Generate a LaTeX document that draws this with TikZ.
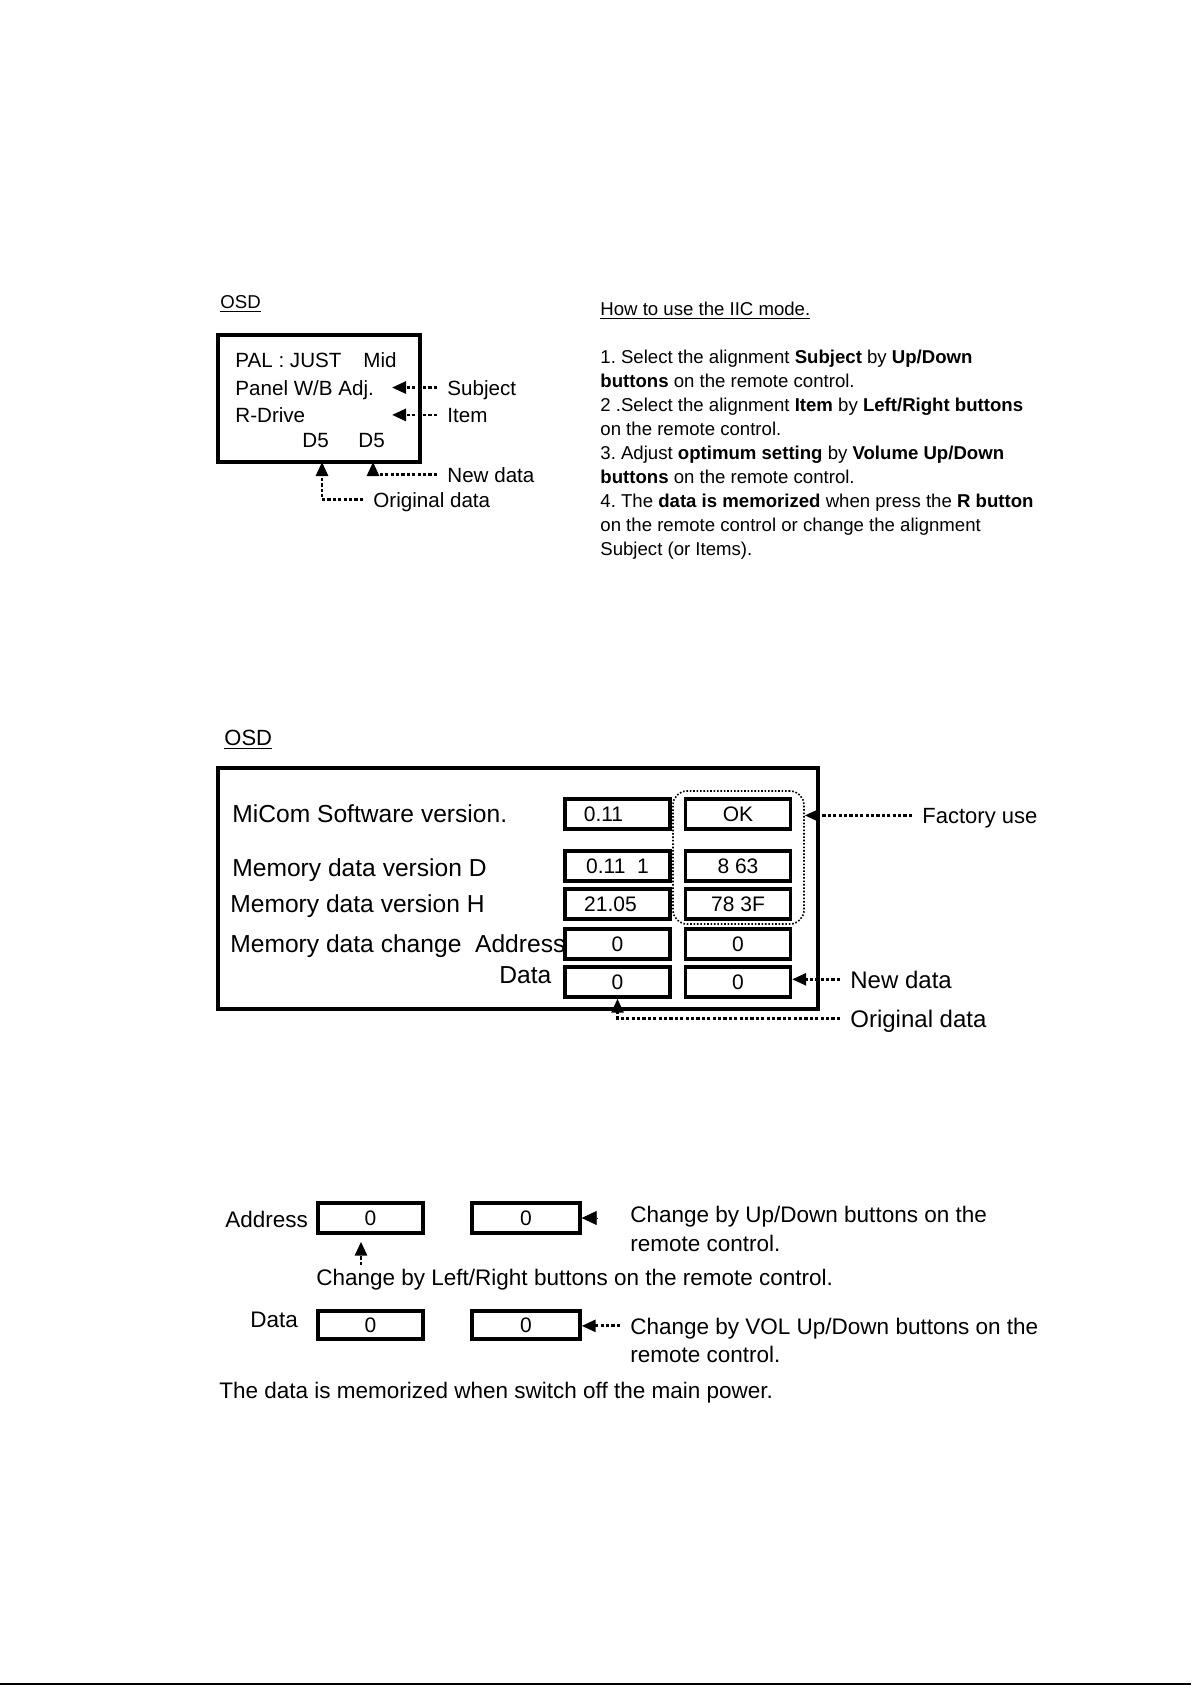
\documentclass[tikz,border=0pt]{standalone}
\usepackage{fontspec}
\setmainfont{Liberation Sans}
\usetikzlibrary{positioning,arrows.meta}
\frenchspacing

\tikzset{
  osdframe/.style={draw, line width=1.6pt, inner sep=0pt},
  valbox/.style={draw, line width=1.7pt, minimum width=52.5pt, minimum height=15pt, inner sep=0pt, font=\fontsize{10.5}{12}\selectfont},
  txt/.style={anchor=base west, inner sep=0pt},
  lbl/.style={anchor=base west, inner ysep=0pt, inner xsep=5pt, text depth=0pt},
  ptr/.style={-{Triangle[length=7pt,width=6pt]}, line width=1.4pt, dash pattern=on 1.6pt off 1.1pt},
  tip/.style={-{Triangle[length=7.5pt,width=7pt]}, line width=0.4pt},
}

\begin{document}
\begin{tikzpicture}[x=0.5pt,y=-0.5pt]
\useasboundingbox (0,0) rectangle (1191,1685);

% first OSD screen
\node[txt, font=\fontsize{9.3}{11}\selectfont] (osdA) at (220,308) {\underline{OSD}};
\node[osdframe, minimum width=101pt, minimum height=63.5pt] (scrA) at (319,398.5) {};
\begin{scope}[font=\fontsize{10.3}{12}\selectfont]
  \node[txt] (pal) at (235,367) {PAL : JUST};
  \node[txt] (mid) at (363,367) {Mid};
  \node[txt] (panel) at (235,395) {Panel W/B Adj.};
  \node[txt] (rdrive) at (235,422) {R-Drive};
  \node[txt] (dOrig) at (302,447) {D5};
  \node[txt] (dNew) at (358,447) {D5};
  \coordinate (tipA) at (392,0);
  \coordinate (upO) at (322,462);
  \coordinate (upN) at (373,462);
  \node[lbl] (subj) at (437,395) {Subject};
  \node[lbl] (item) at (437,422) {Item};
  \node[lbl] (newA) at (437,482) {New data};
  \node[lbl] (origA) at (363,507) {Original data};
  \draw[ptr] (subj.west) -- (subj.west -| tipA);
  \draw[ptr] (item.west) -- (item.west -| tipA);
  \draw[ptr] (newA.west) -| (upN);
  \draw[ptr] (origA.west) -| (upO);
\end{scope}

\node[anchor=north west, inner sep=0pt, align=left, font=\fontsize{9.3}{12}\selectfont] (howto) at (600,302)
  {\underline{How to use the IIC mode.}\\[12pt]
   1. Select the alignment \textbf{Subject} by \textbf{Up/Down}\\
   \textbf{buttons} on the remote control.\\
   2 .Select the alignment \textbf{Item} by \textbf{Left/Right buttons}\\
   on the remote control.\\
   3. Adjust \textbf{optimum setting} by \textbf{Volume Up/Down}\\
   \textbf{buttons} on the remote control.\\
   4. The \textbf{data is memorized} when press the \textbf{R button}\\
   on the remote control or change the alignment\\
   Subject (or Items).};

% second OSD screen
\node[txt, font=\fontsize{11}{13}\selectfont] (osdB) at (224,745) {\underline{OSD}};
\node[osdframe, minimum width=300pt, minimum height=120.5pt] (scrB) at (518,888.5) {};
\begin{scope}[font=\fontsize{12.3}{14}\selectfont]
  \node[txt] (micom) at (232,822) {MiCom Software version.};
  \node[txt] (verD) at (232,876) {Memory data version D};
  \node[txt] (verH) at (230,912) {Memory data version H};
  \node[txt] (change) at (230,952) {Memory data change\ \ Address};
  \node[txt] (dataB) at (499,983) {Data};
\end{scope}
\node[valbox] (c1) at (617.5,814) {0.11\kern14pt};
\node[valbox] (c2) at (617.5,866) {0.11\ \ 1};
\node[valbox] (c3) at (617.5,904) {21.05\kern7pt};
\node[valbox] (c4) at (617.5,944) {0};
\node[valbox] (c5) at (617.5,982) {0};
\node[valbox] (f1) at (738,814) {OK};
\node[valbox] (f2) at (738,866) {8 63};
\node[valbox] (f3) at (738,904) {78 3F};
\node[valbox] (f4) at (738,944) {0};
\node[valbox] (f5) at (738,982) {0};
\node[draw, line width=0.8pt, dash pattern=on 0.8pt off 0.9pt, rounded corners=7pt,
      minimum width=65.5pt, minimum height=66.5pt, inner sep=0pt] (fac) at (738.5,857.5) {};
\node[lbl, font=\fontsize{11}{13}\selectfont] (factory) at (912,823) {Factory use};
\node[lbl, font=\fontsize{12}{14}\selectfont] (newB) at (840,988) {New data};
\node[lbl, font=\fontsize{12}{14}\selectfont] (origB) at (840,1027) {Original data};
\draw[ptr] (factory.west) -- (factory.west -| fac.east);
\draw[ptr] (newB.west) -- (newB.west -| f5.east);
\draw[ptr] (origB.west) -| (c5.south);

% how to change
\begin{scope}[font=\fontsize{11.25}{13}\selectfont]
  \node[txt] (addr) at (225,1227) {Address};
  \node[valbox] (a1) at (370.5,1218) {0};
  \node[valbox, minimum width=54pt] (a2) at (526,1218) {0};
  \draw[tip] ([xshift=7.5pt]a2.east) -- (a2.east);
  \node[txt] (ud1) at (630,1222) {Change by Up/Down buttons on the};
  \node[txt] (ud2) at (630,1251) {remote control.};
  \coordinate (lrtail) at (361,1265);
  \draw[ptr, shorten >=3.5pt] (lrtail) -- (lrtail |- a1.south);
  \node[txt] (lr) at (316,1285) {Change by Left/Right buttons on the remote control.};
  \node[txt] (dataC) at (250,1327) {Data};
  \node[valbox, minimum height=14pt] (d1) at (370.5,1325) {0};
  \node[valbox, minimum width=54pt, minimum height=14pt] (d2) at (526,1325) {0};
  \node[lbl] (vol1) at (620,1334) {Change by VOL Up/Down buttons on the};
  \node[txt] (vol2) at (630,1362) {remote control.};
  \draw[ptr] (vol1.west) -- (vol1.west -| d2.east);
  \node[txt] (memo) at (219,1398) {The data is memorized when switch off the main power.};
\end{scope}

\draw[line width=1pt] (0,1684) -- (1191,1684);
\end{tikzpicture}
\end{document}
